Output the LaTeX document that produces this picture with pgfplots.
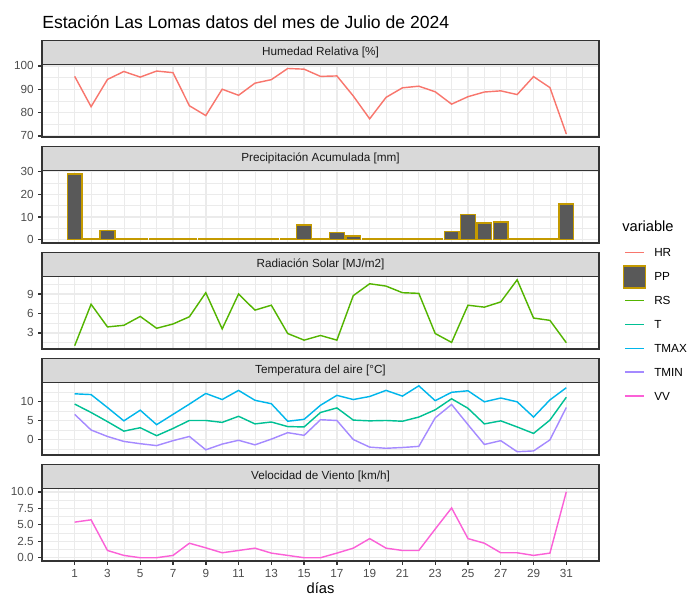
\documentclass[border=0pt]{standalone}
\usepackage{pgfplots}
\pgfplotsset{compat=1.18}
\usepackage{fontspec}
\setmainfont{Liberation Sans}
\definecolor{grey92}{HTML}{EBEBEB}
\definecolor{grey85}{HTML}{D9D9D9}
\definecolor{grey20}{HTML}{333333}
\definecolor{grey30}{HTML}{4D4D4D}
\definecolor{grey10}{HTML}{1A1A1A}
\definecolor{grey35}{HTML}{595959}
\definecolor{cHR}{HTML}{F8766D}
\definecolor{cPP}{HTML}{C49A00}
\definecolor{cRS}{HTML}{53B400}
\definecolor{cT}{HTML}{00C094}
\definecolor{cTMAX}{HTML}{00B6EB}
\definecolor{cTMIN}{HTML}{A58AFF}
\definecolor{cVV}{HTML}{FB61D7}
\pgfplotsset{
  panel/.style={
    anchor=north west, scale only axis, width=417.75pt, height=54.375pt,
    xmin=-0.995, xmax=32.995,
    xtick={1,3,...,31}, minor xtick={0,2,...,32},
    grid=both,
    major grid style={draw=grey92, line width=1.07pt},
    minor grid style={draw=grey92, line width=0.53pt},
    axis line style={draw=grey20, line width=1.07pt},
    tick align=outside, major tick length=2.75pt, minor tick length=0pt,
    xtick pos=bottom, ytick pos=left,
    tick style={draw=grey20, line width=1.07pt},
    ticklabel style={font=\fontsize{8.8}{10}\selectfont, text=grey30},
    /pgf/number format/assume math mode=true,
    clip=false,
  },
  toppanel/.style={panel, xticklabels={}, xmajorticks=false},
}
\newcommand{\strip}[1]{%
  \draw[fill=grey85, draw=grey20, line width=1.07pt] (rel axis cs:0,1) rectangle ([yshift=18pt]rel axis cs:1,1);
  \node[font=\fontsize{8.8}{10}\selectfont, text=grey10] at ([yshift=9pt]rel axis cs:0.5,1) {#1};
}
\begin{document}
\begin{tikzpicture}
\useasboundingbox (0,0) rectangle (516pt,-447.75pt);
\node[anchor=base west, inner sep=0pt, font=\fontsize{13.2}{15}\selectfont] at (31.5pt,-21.2pt) {Estación Las Lomas datos del mes de Julio de 2024};

% Panel 1: HR
\begin{axis}[toppanel, at={(31.5pt,-48.375pt)}, ymin=69.5, ymax=100.6, ytick={70,80,90,100}, minor ytick={75,85,95}]
\addplot[cHR, line width=1.07pt] coordinates {
(1,95.5)(2,82.5)(3,94.2)(4,97.6)(5,95.2)(6,97.8)(7,97.1)(8,82.9)(9,78.7)(10,90.0)
(11,87.4)(12,92.6)(13,94.1)(14,98.9)(15,98.6)(16,95.5)(17,95.7)(18,87.1)(19,77.3)(20,86.5)
(21,90.6)(22,91.3)(23,88.9)(24,83.6)(25,86.8)(26,88.8)(27,89.3)(28,87.7)(29,95.4)(30,90.7)(31,70.8)};
\strip{Humedad Relativa [\%]}
\end{axis}

% Panel 2: PP
\begin{axis}[toppanel, at={(31.5pt,-127.875pt)}, ymin=-1.45, ymax=30.45, ytick={0,10,20,30}, minor ytick={5,15,25}]
\addplot[ybar, bar width=0.9, fill=grey35, draw=cPP, line width=1.07pt] coordinates {
(1,29.0)(2,0.3)(3,4.1)(4,0.5)(5,0.5)(6,0.5)(7,0.3)(8,0.25)(9,0.25)(10,0.25)
(11,0.25)(12,0.25)(13,0.25)(14,0.5)(15,6.5)(16,0.25)(17,3.1)(18,1.6)(19,0.25)(20,0.25)
(21,0.25)(22,0.25)(23,0.25)(24,3.7)(25,11.0)(26,7.4)(27,7.8)(28,0.3)(29,0.3)(30,0.25)(31,15.8)};
\strip{Precipitación Acumulada [mm]}
\end{axis}

% Panel 3: RS
\begin{axis}[toppanel, at={(31.5pt,-207.375pt)}, ymin=0.51, ymax=11.7, ytick={3,6,9}, minor ytick={1.5,4.5,7.5,10.5}]
\addplot[cRS, line width=1.07pt] coordinates {
(1,1.02)(2,7.42)(3,3.92)(4,4.17)(5,5.54)(6,3.71)(7,4.37)(8,5.49)(9,9.2)(10,3.61)
(11,9.0)(12,6.51)(13,7.27)(14,2.9)(15,1.88)(16,2.6)(17,1.88)(18,8.75)(19,10.58)(20,10.22)
(21,9.2)(22,9.1)(23,2.9)(24,1.53)(25,7.27)(26,6.97)(27,7.78)(28,11.19)(29,5.29)(30,4.93)(31,1.48)};
\strip{Radiación Solar [MJ/m2]}
\end{axis}

% Panel 4: Temperatures
\begin{axis}[toppanel, at={(31.5pt,-286.875pt)}, ymin=-4.07, ymax=14.97, ytick={0,5,10}, minor ytick={-2.5,2.5,7.5,12.5}]
\addplot[cT, line width=1.07pt] coordinates {
(1,9.3)(2,7.1)(3,4.7)(4,2.2)(5,3.1)(6,1.0)(7,2.9)(8,5.0)(9,5.0)(10,4.5)
(11,6.1)(12,4.1)(13,4.6)(14,3.4)(15,3.3)(16,7.1)(17,8.3)(18,5.1)(19,4.9)(20,5.0)
(21,4.8)(22,5.9)(23,7.8)(24,10.7)(25,8.2)(26,4.1)(27,4.9)(28,3.3)(29,1.6)(30,5.1)(31,11.1)};
\addplot[cTMAX, line width=1.07pt] coordinates {
(1,12.0)(2,11.8)(3,8.4)(4,4.9)(5,7.7)(6,3.9)(7,6.6)(8,9.3)(9,12.1)(10,10.5)
(11,12.9)(12,10.3)(13,9.4)(14,4.8)(15,5.3)(16,9.0)(17,11.6)(18,10.5)(19,11.3)(20,12.9)
(21,11.4)(22,14.1)(23,10.2)(24,12.4)(25,12.8)(26,9.9)(27,10.9)(28,9.9)(29,5.9)(30,10.4)(31,13.6)};
\addplot[cTMIN, line width=1.07pt] coordinates {
(1,6.6)(2,2.5)(3,0.8)(4,-0.5)(5,-1.1)(6,-1.6)(7,-0.3)(8,0.8)(9,-2.7)(10,-1.2)
(11,-0.2)(12,-1.4)(13,0.1)(14,1.8)(15,1.1)(16,5.2)(17,5.0)(18,0.0)(19,-2.0)(20,-2.3)
(21,-2.1)(22,-1.8)(23,5.7)(24,9.2)(25,3.9)(26,-1.3)(27,-0.3)(28,-3.2)(29,-3.0)(30,-0.1)(31,8.4)};
\strip{Temperatura del aire [°C]}
\end{axis}

% Panel 5: VV
\begin{axis}[panel, at={(31.5pt,-366.375pt)}, ymin=-0.5, ymax=10.5, ytick={0,2.5,5,7.5,10}, minor ytick={1.25,3.75,6.25,8.75},
  yticklabel style={/pgf/number format/.cd, fixed, fixed zerofill, precision=1},
  xlabel={días}, xlabel style={font=\fontsize{11}{13}\selectfont, text=black, yshift=3pt}]
\addplot[cVV, line width=1.07pt] coordinates {
(1,5.4)(2,5.75)(3,1.1)(4,0.35)(5,0)(6,0)(7,0.35)(8,2.2)(9,1.5)(10,0.75)
(11,1.1)(12,1.45)(13,0.7)(14,0.35)(15,0)(16,0)(17,0.7)(18,1.45)(19,2.9)(20,1.45)
(21,1.1)(22,1.1)(23,4.35)(24,7.55)(25,2.9)(26,2.2)(27,0.75)(28,0.75)(29,0.35)(30,0.7)(31,10.0)};
\strip{Velocidad de Viento [km/h]}
\end{axis}

% Legend
\node[anchor=west, font=\fontsize{11}{13}\selectfont, inner sep=0pt] at (466.5pt,-169.5pt) {variable};
\begin{scope}[every node/.style={anchor=west, font=\fontsize{8.8}{10}\selectfont, inner sep=0pt}]
\draw[cHR, line width=1.07pt] (468.75pt,-189.5pt) -- (483pt,-189.5pt);
\node at (490.5pt,-189.5pt) {HR};
\draw[fill=grey35, draw=cPP, line width=1.07pt] (467.6pt,-199.5pt) rectangle (484.1pt,-215.9pt);
\node at (490.5pt,-207.45pt) {PP};
\draw[cRS, line width=1.07pt] (468.75pt,-225.4pt) -- (483pt,-225.4pt);
\node at (490.5pt,-225.4pt) {RS};
\draw[cT, line width=1.07pt] (468.75pt,-243.3pt) -- (483pt,-243.3pt);
\node at (490.5pt,-243.3pt) {T};
\draw[cTMAX, line width=1.07pt] (468.75pt,-261.2pt) -- (483pt,-261.2pt);
\node at (490.5pt,-261.2pt) {TMAX};
\draw[cTMIN, line width=1.07pt] (468.75pt,-279.15pt) -- (483pt,-279.15pt);
\node at (490.5pt,-279.15pt) {TMIN};
\draw[cVV, line width=1.07pt] (468.75pt,-297.1pt) -- (483pt,-297.1pt);
\node at (490.5pt,-297.1pt) {VV};
\end{scope}
\end{tikzpicture}
\end{document}
